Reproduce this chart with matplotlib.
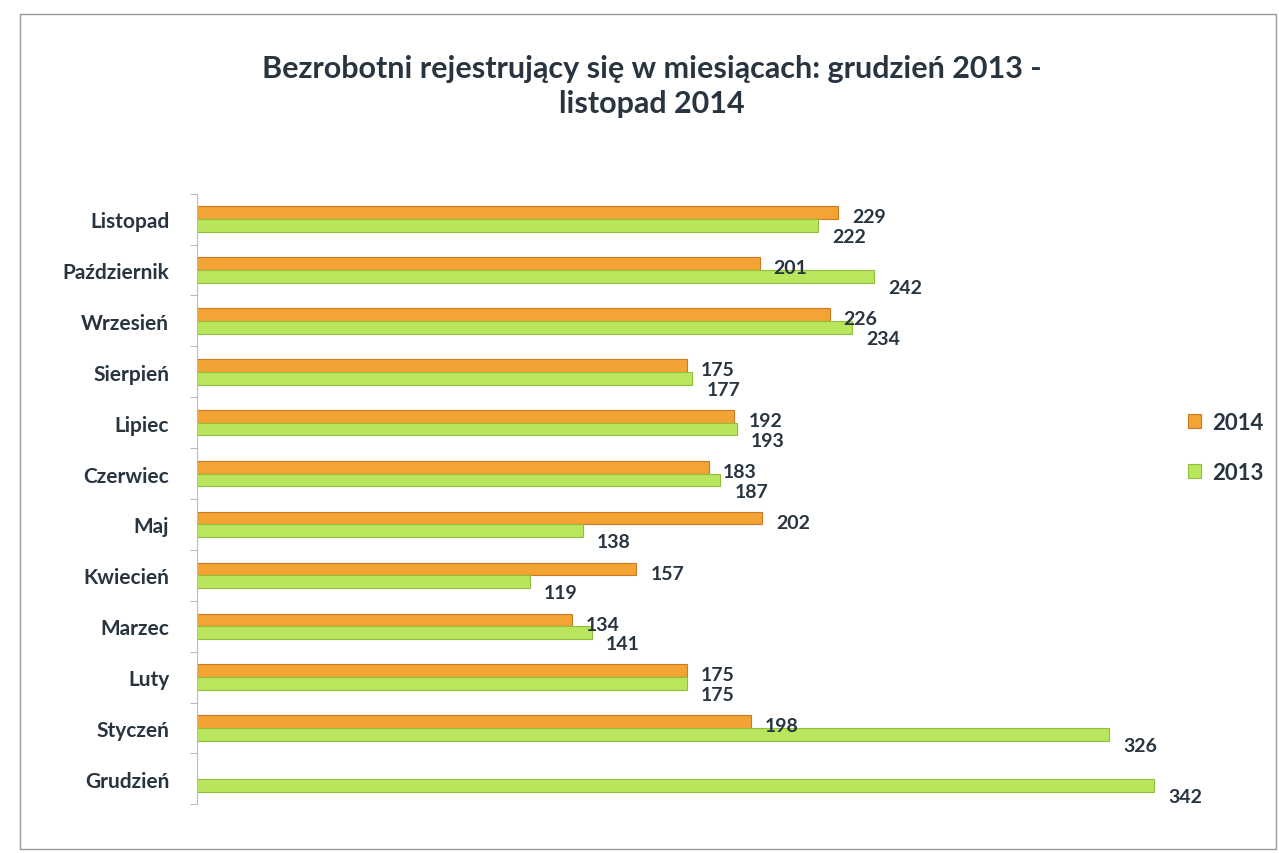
import matplotlib.pyplot as plt
import numpy as np
from matplotlib.patches import Rectangle

# months listed from bottom to top (as drawn)
months = ["Grudzień", "Styczeń", "Luty", "Marzec", "Kwiecień", "Maj",
          "Czerwiec", "Lipiec", "Sierpień", "Wrzesień", "Październik", "Listopad"]
vals_2014 = [np.nan, 198, 175, 134, 157, 202, 183, 192, 175, 226, 201, 229]
vals_2013 = [342, 326, 175, 141, 119, 138, 187, 193, 177, 234, 242, 222]

plt.rcParams['font.family'] = ['Lato', 'DejaVu Sans']

ORANGE = "#F4A435"
GREEN = "#B9E65C"
TEXT = "#283440"

fig = plt.figure(figsize=(12.79, 8.54), dpi=100)
fig.patches.append(Rectangle((0.016, 0.005), 0.982, 0.978, transform=fig.transFigure,
                             fill=False, edgecolor="#999999", linewidth=1))

ax = fig.add_axes([0.154, 0.057, 0.766, 0.715])

y = np.arange(len(months))
h = 0.25
b14 = ax.barh(y + h / 2, vals_2014, height=h, color=ORANGE,
              edgecolor="#c97a22", linewidth=0.8, label="2014")
b13 = ax.barh(y - h / 2, vals_2013, height=h, color=GREEN,
              edgecolor="#8fbf3c", linewidth=0.8, label="2013")

# value labels: orange one next to its bar, green one pushed a bit lower
for yi, v in zip(y, vals_2014):
    if not np.isnan(v):
        ax.annotate(f"{int(v)}", (v, yi + h / 2), xytext=(10, -3), textcoords="offset points",
                    ha="left", va="center", fontsize=14, fontweight="bold", color=TEXT)
for yi, v in zip(y, vals_2013):
    ax.annotate(f"{int(v)}", (v, yi - h / 2), xytext=(10, -8), textcoords="offset points",
                ha="left", va="center", fontsize=14, fontweight="bold", color=TEXT)

ax.set_xlim(0, 350)
ax.set_ylim(-0.5, len(months) - 0.5)
ax.set_yticks(y)
ax.set_yticklabels(months, fontsize=15, fontweight="bold", color=TEXT)
ax.set_yticks(np.arange(-0.5, len(months), 1), minor=True)
ax.tick_params(axis="y", which="major", length=0, pad=20)
ax.tick_params(axis="y", which="minor", length=5, color="#aaaaaa")
ax.set_xticks([])
for s in ["top", "right", "bottom"]:
    ax.spines[s].set_visible(False)
ax.spines["left"].set_color("#bbbbbb")

handles, lbls = ax.get_legend_handles_labels()
fig.legend(handles, lbls, loc="center left", bbox_to_anchor=(0.913, 0.475),
           frameon=False, prop={"weight": "bold", "size": 16},
           handlelength=0.6, handleheight=0.6, labelspacing=1.3, handletextpad=0.5,
           labelcolor=TEXT)

fig.text(0.51, 0.899, "Bezrobotni rejestrujący się w miesiącach: grudzień 2013 -\nlistopad 2014",
         ha="center", va="center", fontsize=22, fontweight="bold", color=TEXT,
         linespacing=1.3)

fig.savefig("out.png", dpi=100)
